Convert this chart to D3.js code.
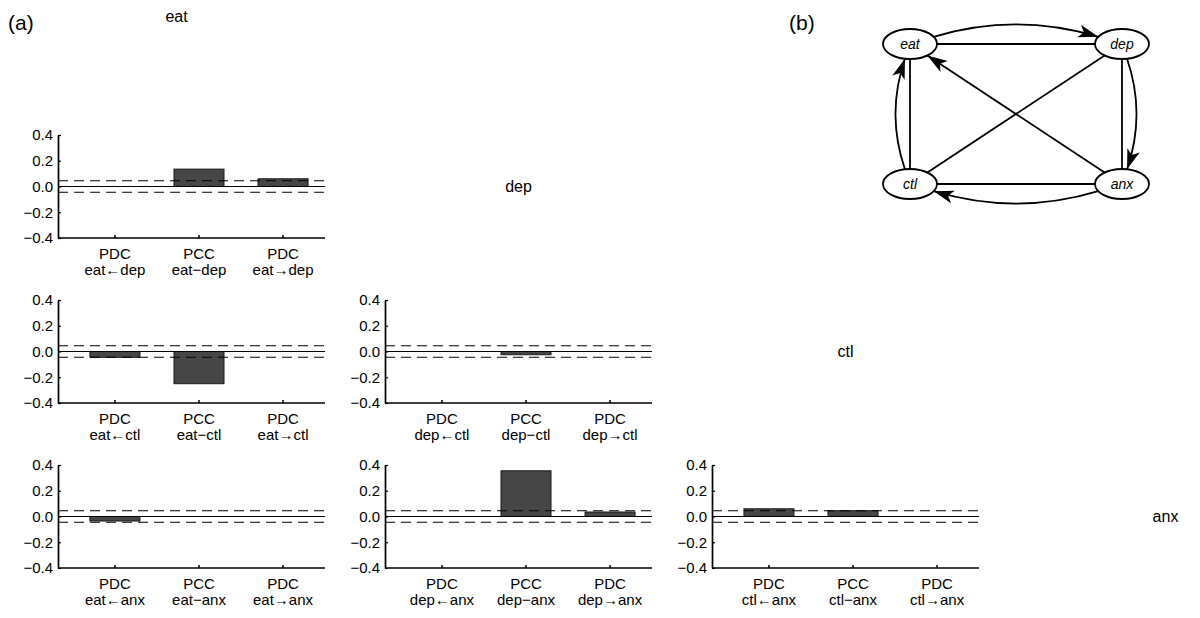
<!DOCTYPE html>
<html>
<head>
<meta charset="utf-8">
<script src="https://cdn.jsdelivr.net/npm/d3@7"></script>
<style>
  body { margin: 0; background: #fff; }
  text { font-family: "Liberation Sans", Arial, sans-serif; fill: #000; }
</style>
</head>
<body>
<div id="chart"></div>
<script>
// variables and measures
const vars = ["eat", "dep", "ctl", "anx"];
const measures = ["PDC", "PCC", "PDC"];
const relSymbols = ["\u2190", "\u2212", "\u2192"];
const yTicks = [-0.4, -0.2, 0, 0.2, 0.4];
const threshold = 0.045;

// bar values per pair: [PDC a<-b, PCC a-b, PDC a->b]
const eatDep = [0, 0.135, 0.06];
const eatCtl = [-0.045, -0.25, 0];
const depCtl = [0, -0.025, 0];
const eatAnx = [-0.035, 0, 0];
const depAnx = [0, 0.355, 0.035];
const ctlAnx = [0.06, 0.045, 0];

const panels = [
  { a: "eat", b: "dep", values: eatDep },
  { a: "eat", b: "ctl", values: eatCtl },
  { a: "dep", b: "ctl", values: depCtl },
  { a: "eat", b: "anx", values: eatAnx },
  { a: "dep", b: "anx", values: depAnx },
  { a: "ctl", b: "anx", values: ctlAnx }
];

// graph (b)
const graphNodes = [
  { id: "eat", col: 0, row: 0 },
  { id: "dep", col: 1, row: 0 },
  { id: "ctl", col: 0, row: 1 },
  { id: "anx", col: 1, row: 1 }
];
const pccEdges = [["eat", "dep"], ["eat", "ctl"], ["dep", "anx"], ["ctl", "anx"], ["dep", "ctl"]];
const pdcArrows = [
  { source: "eat", target: "dep", bend: 32 },
  { source: "ctl", target: "eat", bend: 24 },
  { source: "dep", target: "anx", bend: 24 },
  { source: "anx", target: "ctl", bend: 32 },
  { source: "anx", target: "eat", bend: 0 }
];

const width = 1200, height = 618;
const plotW = 267, plotH = 103;
const colX = d3.scaleLinear().domain([0, 1]).range([58, 385]);
const rowY = d3.scaleLinear().domain([0, 1]).range([135, 300]);
const titleDx = [-15, 0, 0, -7];
const titleDy = [0, 5, 5, 5];

const svg = d3.select("#chart").append("svg")
    .attr("width", width)
    .attr("height", height);

svg.append("text").attr("x", 8).attr("y", 30)
    .style("font-size", "21px").text("(a)");
svg.append("text").attr("x", 789).attr("y", 30)
    .style("font-size", "21px").text("(b)");

const x = d3.scaleBand().domain([0, 1, 2]).range([0, 282])
    .paddingInner(0.405).paddingOuter(0.38);
const y = d3.scaleLinear().domain([-0.4, 0.4]).range([plotH, 0]);

// variable titles on the diagonal
vars.forEach((v, i) => {
  svg.append("text")
      .attr("x", colX(i) + plotW / 2 + titleDx[i])
      .attr("y", rowY(i - 1) + y(0) + titleDy[i])
      .attr("text-anchor", "middle")
      .style("font-size", "16px")
      .text(v);
});

panels.forEach(p => {
  const col = vars.indexOf(p.a);
  const row = vars.indexOf(p.b) - 1;
  const g = svg.append("g")
      .attr("transform", `translate(${colX(col)},${rowY(row)})`);

  g.selectAll("rect.bar")
      .data(p.values)
      .enter().append("rect")
      .attr("class", "bar")
      .attr("x", (d, i) => x(i))
      .attr("width", x.bandwidth())
      .attr("y", d => y(Math.max(d, 0)))
      .attr("height", d => Math.abs(y(d) - y(0)))
      .attr("fill", "#464646")
      .attr("stroke", "#1a1a1a")
      .attr("stroke-width", 1);

  // significance thresholds
  g.selectAll("line.thr")
      .data([threshold, -threshold])
      .enter().append("line")
      .attr("x1", 0).attr("x2", plotW)
      .attr("y1", d => y(d)).attr("y2", d => y(d))
      .attr("stroke", "#000")
      .attr("stroke-width", 1.1)
      .attr("stroke-dasharray", "10,6");

  g.append("line")
      .attr("x1", 0).attr("x2", plotW)
      .attr("y1", y(0)).attr("y2", y(0))
      .attr("stroke", "#000")
      .attr("stroke-width", 1.1);

  const yAxis = g.append("g")
      .call(d3.axisLeft(y).tickValues(yTicks).tickSize(-3).tickSizeOuter(0)
          .tickPadding(5).tickFormat(d3.format(".1f")));
  yAxis.select(".domain").attr("stroke-width", 1.7);
  yAxis.selectAll(".tick line").attr("stroke-width", 1.2);
  yAxis.selectAll("text").style("font-size", "15px")
      .style("font-family", "'Liberation Sans', Arial, sans-serif");

  const xAxis = g.append("g")
      .attr("transform", `translate(0,${plotH})`)
      .call(d3.axisBottom(x).tickSize(-3).tickSizeOuter(0).tickFormat(""));
  xAxis.select(".domain").remove();
  xAxis.selectAll(".tick line").attr("stroke-width", 1.5);
  xAxis.append("line")
      .attr("x1", 0).attr("x2", plotW)
      .attr("stroke", "#000").attr("stroke-width", 1.7);

  // category labels: measure on top, pair underneath
  g.selectAll("text.cat")
      .data(measures)
      .enter().append("text")
      .attr("class", "cat")
      .attr("text-anchor", "middle")
      .attr("x", (d, i) => x(i) + x.bandwidth() / 2)
      .attr("y", plotH + 21)
      .style("font-size", "15px")
      .text(d => d);
  g.selectAll("text.pair")
      .data(relSymbols)
      .enter().append("text")
      .attr("class", "pair")
      .attr("text-anchor", "middle")
      .attr("x", (d, i) => x(i) + x.bandwidth() / 2)
      .attr("y", plotH + 37)
      .style("font-size", "15px")
      .text(d => p.a + d + p.b);
});

// ---- graph (b) ----
const gx = d3.scaleLinear().domain([0, 1]).range([910, 1122]);
const gy = d3.scaleLinear().domain([0, 1]).range([44, 184]);
const rx = 27, ry = 15;
const nodeById = {};
graphNodes.forEach(n => { n.x = gx(n.col); n.y = gy(n.row); nodeById[n.id] = n; });

function boundary(n, tx, ty) {
  const dx = tx - n.x, dy = ty - n.y;
  const t = 1 / Math.sqrt((dx / rx) ** 2 + (dy / ry) ** 2);
  return [n.x + dx * t, n.y + dy * t];
}

const graph = svg.append("g");

pccEdges.forEach(([a, b]) => {
  const na = nodeById[a], nb = nodeById[b];
  const p0 = boundary(na, nb.x, nb.y), p1 = boundary(nb, na.x, na.y);
  graph.append("line")
      .attr("x1", p0[0]).attr("y1", p0[1])
      .attr("x2", p1[0]).attr("y2", p1[1])
      .attr("stroke", "#000").attr("stroke-width", 1.8);
});

pdcArrows.forEach(e => {
  const s = nodeById[e.source], t = nodeById[e.target];
  const len = Math.hypot(t.x - s.x, t.y - s.y);
  const ux = (t.x - s.x) / len, uy = (t.y - s.y) / len;
  const cx = (s.x + t.x) / 2 + uy * e.bend;
  const cy = (s.y + t.y) / 2 - ux * e.bend;
  const p0 = e.bend ? boundary(s, cx, cy) : boundary(s, t.x, t.y);
  const p1 = e.bend ? boundary(t, cx, cy) : boundary(t, s.x, s.y);
  const path = d3.path();
  path.moveTo(p0[0], p0[1]);
  if (e.bend) path.quadraticCurveTo(cx, cy, p1[0], p1[1]);
  else path.lineTo(p1[0], p1[1]);
  graph.append("path")
      .attr("d", path.toString())
      .attr("fill", "none")
      .attr("stroke", "#000").attr("stroke-width", 1.8);
  const fromX = e.bend ? cx : p0[0], fromY = e.bend ? cy : p0[1];
  const ang = Math.atan2(p1[1] - fromY, p1[0] - fromX) * 180 / Math.PI;
  graph.append("path")
      .attr("d", "M0,0L-20,-6.5L-15,0L-20,6.5Z")
      .attr("transform", `translate(${p1[0]},${p1[1]}) rotate(${ang})`)
      .attr("fill", "#000");
});

const node = graph.selectAll("g.node")
    .data(graphNodes)
    .enter().append("g")
    .attr("class", "node")
    .attr("transform", d => `translate(${d.x},${d.y})`);
node.append("ellipse")
    .attr("rx", rx).attr("ry", ry)
    .attr("fill", "#fff")
    .attr("stroke", "#000").attr("stroke-width", 1.8);
node.append("text")
    .attr("text-anchor", "middle")
    .attr("y", 5)
    .style("font-size", "14px")
    .style("font-style", "italic")
    .text(d => d.id);
</script>
</body>
</html>
